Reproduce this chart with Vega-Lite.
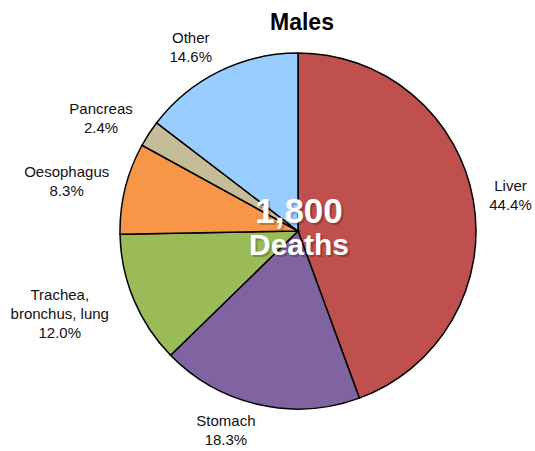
{
  "$schema": "https://vega.github.io/schema/vega-lite/v6.json",
  "width": 400,
  "height": 400,
  "autosize": "none",
  "padding": {"left": 98, "top": 31, "right": 37, "bottom": 20},
  "background": "white",
  "title": {"text": "Males", "fontSize": 23, "font": "Liberation Sans", "fontWeight": "bold", "color": "#000", "frame": "group", "offset": -4, "dx": 4},
  "config": {"view": {"stroke": null}, "font": "Liberation Sans"},
  "datasets": {
    "causes": [
      {"cause": "Liver", "pct": 44.4, "rank": 1, "label": ["Liver", "44.4%"]},
      {"cause": "Stomach", "pct": 18.3, "rank": 2, "label": ["Stomach", "18.3%"]},
      {"cause": "Trachea, bronchus, lung", "pct": 12.0, "rank": 3, "label": ["Trachea,", "bronchus, lung", "12.0%"]},
      {"cause": "Oesophagus", "pct": 8.3, "rank": 4, "label": ["Oesophagus", "8.3%"]},
      {"cause": "Pancreas", "pct": 2.4, "rank": 5, "label": ["Pancreas", "2.4%"]},
      {"cause": "Other", "pct": 14.6, "rank": 6, "label": ["Other", "14.6%"]}
    ],
    "total": [{"deaths": 1800, "unit": "Deaths"}]
  },
  "layer": [
    {
      "data": {"name": "causes"},
      "mark": {"type": "arc", "outerRadius": 178, "stroke": "#000", "strokeWidth": 1.5},
      "encoding": {
        "theta": {"field": "pct", "type": "quantitative", "stack": true},
        "order": {"field": "rank", "type": "quantitative"},
        "color": {
          "field": "cause",
          "type": "nominal",
          "scale": {
            "domain": ["Liver", "Stomach", "Trachea, bronchus, lung", "Oesophagus", "Pancreas", "Other"],
            "range": ["#C0504D", "#8064A2", "#9BBB59", "#F79646", "#C4BD97", "#99CCFF"]
          },
          "legend": null
        }
      }
    },
    {
      "data": {"name": "causes"},
      "mark": {
        "type": "text",
        "radius": 196,
        "fontSize": 15,
        "lineHeight": 19,
        "align": "center",
        "baseline": "middle",
        "fill": "#111",
        "dx": {"expr": "(sin((datum.pct_start + datum.pct_end) * PI / 100) < 0 ? -4.1 : 3.9) * max(length(datum.label[0]), length(datum.label[1]))"},
        "dy": {"expr": "-(length(datum.label) - 1) * 9.5 - cos((datum.pct_start + datum.pct_end) * PI / 100) * (length(datum.label) * 9.5 - 10)"}
      },
      "encoding": {
        "theta": {"field": "pct", "type": "quantitative", "stack": true},
        "order": {"field": "rank", "type": "quantitative"},
        "text": {"field": "label"}
      }
    },
    {
      "data": {"name": "total"},
      "mark": {"type": "text", "fontSize": 35, "fontWeight": "bold", "fill": "#000", "opacity": 0.22, "baseline": "alphabetic", "align": "center", "dx": 3, "dy": -6},
      "encoding": {"text": {"field": "deaths", "type": "quantitative", "format": ","}}
    },
    {
      "data": {"name": "total"},
      "mark": {"type": "text", "fontSize": 35, "fontWeight": "bold", "fill": "#fff", "baseline": "alphabetic", "align": "center", "dx": 1, "dy": -8},
      "encoding": {"text": {"field": "deaths", "type": "quantitative", "format": ","}}
    },
    {
      "data": {"name": "total"},
      "mark": {"type": "text", "fontSize": 30, "fontWeight": "bold", "fill": "#000", "opacity": 0.22, "baseline": "alphabetic", "align": "center", "dx": 3, "dy": 26},
      "encoding": {"text": {"field": "unit", "type": "nominal"}}
    },
    {
      "data": {"name": "total"},
      "mark": {"type": "text", "fontSize": 30, "fontWeight": "bold", "fill": "#fff", "baseline": "alphabetic", "align": "center", "dx": 1, "dy": 24},
      "encoding": {"text": {"field": "unit", "type": "nominal"}}
    }
  ]
}
